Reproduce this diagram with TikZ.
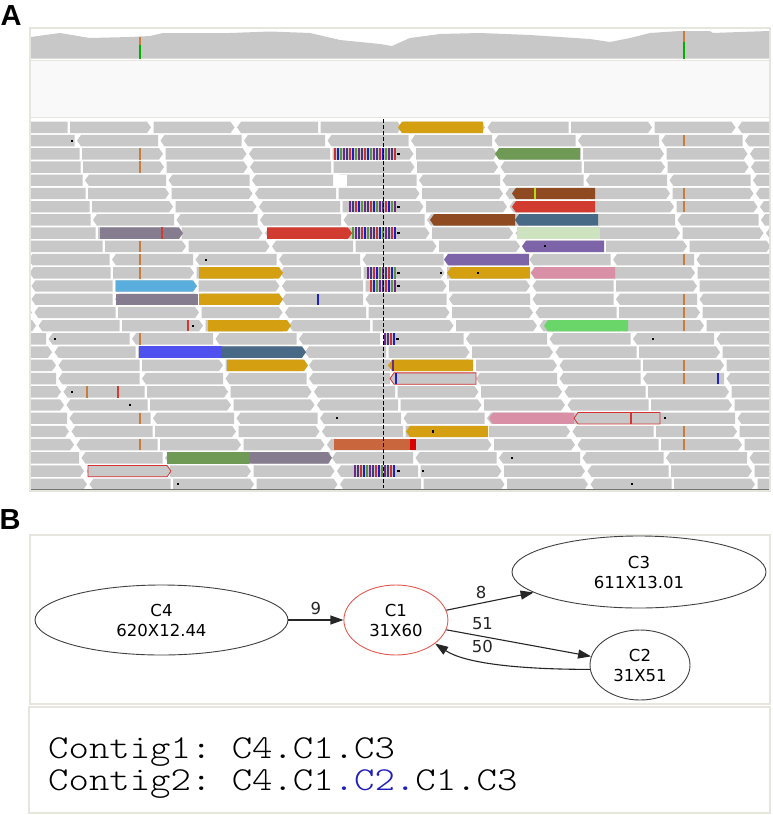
\documentclass[tikz,border=0pt]{standalone}
\usepackage{fontspec}
\setmainfont{DejaVu Sans}
\newfontfamily\panelfont{Liberation Sans}
\newfontfamily\pathfont[FakeStretch=1.16]{lmmonolt10-regular.otf}
\usetikzlibrary{shapes.geometric, arrows.meta, positioning}

\definecolor{readgray}{RGB}{200,200,200}
\definecolor{framegray}{RGB}{230,230,222}
\definecolor{panebg}{RGB}{249,249,249}
\definecolor{gold}{RGB}{212,160,18}
\definecolor{rust}{RGB}{143,74,34}
\definecolor{redread}{RGB}{210,60,48}
\definecolor{slate}{RGB}{72,106,134}
\definecolor{mauve}{RGB}{133,124,143}
\definecolor{mint}{RGB}{205,227,192}
\definecolor{iris}{RGB}{125,99,168}
\definecolor{rose}{RGB}{217,144,166}
\definecolor{sky}{RGB}{90,174,222}
\definecolor{leaf}{RGB}{106,214,106}
\definecolor{royal}{RGB}{80,80,240}
\definecolor{moss}{RGB}{111,154,85}
\definecolor{clay}{RGB}{201,102,62}
\definecolor{outred}{RGB}{215,50,50}
\definecolor{snptan}{RGB}{200,125,60}
\definecolor{c1red}{RGB}{225,90,80}
\definecolor{pathblue}{RGB}{30,30,190}
\definecolor{st0}{RGB}{30,30,200}
\definecolor{st1}{RGB}{110,40,140}
\definecolor{st2}{RGB}{200,50,50}
\definecolor{st3}{RGB}{90,150,60}
\definecolor{st4}{RGB}{60,60,120}

\tikzstyle{panel} = [
    font=\panelfont\bfseries\fontsize{29}{30}\selectfont,
    inner sep=0pt
]
\tikzstyle{contig} = [
    ellipse,
    draw=black!75,
    line width=0.9pt,
    inner sep=0pt,
    minimum height=70pt,
    align=center,
    font=\fontsize{16.5}{20}\selectfont
]
\tikzstyle{link} = [
    -{Triangle[length=13pt,width=9pt]},
    line width=1.1pt,
    black!85
]
\tikzstyle{weight} = [
    inner sep=0pt,
    font=\fontsize{16.5}{20}\selectfont
]
\tikzstyle{contigpath} = [
    anchor=base west,
    inner sep=0pt,
    font=\pathfont\fontsize{33.5}{40}\selectfont\frenchspacing
]

% one read: row, left x, right x, style
\newcommand\readR[4]{%
  \pgfmathsetmacro\rdy{121.7+13.22*#1}%
  \path[#4] (#2,\rdy) -- ({#3-4},\rdy) -- (#3,{\rdy+5.7}) -- ({#3-4},{\rdy+11.4}) -- (#2,{\rdy+11.4}) -- cycle;}
\newcommand\readL[4]{%
  \pgfmathsetmacro\rdy{121.7+13.22*#1}%
  \path[#4] ({#2+4},\rdy) -- (#3,\rdy) -- (#3,{\rdy+11.4}) -- ({#2+4},{\rdy+11.4}) -- (#2,{\rdy+5.7}) -- cycle;}
\newcommand\readN[4]{%
  \pgfmathsetmacro\rdy{121.7+13.22*#1}%
  \path[#4] (#2,\rdy) rectangle (#3,{\rdy+11.4});}
% clipped bases
\newcommand\stripes[3]{%
  \pgfmathsetmacro\rdy{121.7+13.22*#1}%
  \pgfmathtruncatemacro\nst{(#3-#2)/3-1}%
  \foreach \i in {0,...,\nst}{%
    \pgfmathtruncatemacro\ci{mod(\i*3+#1,5)}%
    \fill[fill=st\ci] ({#2+3*\i},\rdy) rectangle ({#2+3*\i+2.4},{\rdy+11.4});}%
  \fill[black] (#3,{\rdy+5}) rectangle ({#3+2.5},{\rdy+6.6});}
\newcommand\snp[3]{%
  \pgfmathsetmacro\rdy{121.7+13.22*#1}%
  \fill[#3] ({#2-0.6},\rdy) rectangle ({#2+0.6},{\rdy+11.4});}
\newcommand\blip[2]{%
  \pgfmathsetmacro\rdy{121.7+13.22*#1}%
  \fill[black] ({#2-1.1},{\rdy+4.6}) rectangle ({#2+1.1},{\rdy+6.8});}

\begin{document}
\begin{tikzpicture}[x=1pt, y=-1pt, node distance=55pt]
\useasboundingbox (0,0) rectangle (773,815);

% A: read pile-up
\node[panel] (labelA) at (11,16) {A};
\draw[framegray, line width=1.2pt, fill=white] (30,28) rectangle (770,491);
\fill[panebg] (31,61) rectangle (769,117);
\draw[framegray] (31,60.5) -- (769,60.5);
\draw[framegray] (31,117.5) -- (769,117.5);
\fill[readgray] (31,58.5) -- (31,37) -- (60,33) -- (90,38) -- (130,37) -- (150,36)
  -- (163,33) -- (230,33) -- (270,31.5) -- (310,33) -- (340,40) -- (380,44)
  -- (392,46) -- (410,38) -- (440,34) -- (480,33) -- (530,35) -- (590,39)
  -- (610,42) -- (630,38) -- (650,33) -- (680,31) -- (710,31) -- (713,33)
  -- (740,32) -- (769,31) -- (769,58.5) -- cycle;
\fill[green!70!black] (139.4,45) rectangle (140.8,58.5);
\fill[snptan] (139.4,37) rectangle (140.8,45);
\fill[green!70!black] (683.4,42) rectangle (684.8,58.5);
\fill[snptan] (683.4,31) rectangle (684.8,42);

\begin{scope}
\clip (31,119) rectangle (769,488);
\foreach \r/\o in {0/70,1/77,2/82,3/83,4/85,5/88,6/92,7/93,8/98,9/105,10/112,
    11/113,12/115,13/115,14/118,15/122,16/132,17/138,18/142,19/142,20/147,
    21/150,22/153,23/155,24/160,25/165,26/170,27/173}{
  \foreach \k in {-2,...,8}{
    \pgfmathsetmacro\xa{\o+83.5*\k}
    \pgfmathsetmacro\xb{\xa+81}
    \pgfmathtruncatemacro\dd{mod(\r*7+\k*5+\r*\k+20,3)}
    \ifnum\dd=0 \readL{\r}{\xa}{\xb}{fill=readgray}\else\readR{\r}{\xa}{\xb}{fill=readgray}\fi
  }
}
\readN{4}{335}{347}{fill=white}

% coloured reads
\readL{0}{398}{483}{fill=gold}
\stripes{2}{334}{397}
\readL{2}{495}{580}{fill=moss}
\readL{5}{512}{595}{fill=rust}
\snp{5}{535}{yellow!70!green}
\stripes{6}{349}{397}
\readL{6}{512}{595}{fill=redread}
\readL{7}{430}{515}{fill=rust}
\readL{7}{515}{598}{fill=slate}
\readR{8}{100}{183}{fill=mauve}
\snp{8}{162}{redread}
\readR{8}{267}{352}{fill=redread}
\stripes{8}{352}{397}
\readN{8}{517}{600}{fill=mint}
\readL{9}{522}{604}{fill=iris}
\readL{10}{444}{529}{fill=iris}
\readR{11}{199}{283}{fill=gold}
\stripes{11}{367}{397}
\readL{11}{447}{530}{fill=gold}
\readL{11}{531}{615}{fill=rose}
\readR{12}{116}{197}{fill=sky}
\stripes{12}{370}{397}
\readN{13}{116}{198}{fill=mauve}
\readR{13}{199}{283}{fill=gold}
\readR{15}{208}{291}{fill=gold}
\readL{15}{544}{628}{fill=leaf}
\stripes{16}{384}{396}
\readN{17}{139}{222}{fill=royal}
\readR{17}{222}{306}{fill=slate}
\readR{18}{227}{308}{fill=gold}
\readL{18}{388}{473}{fill=gold}
\snp{18}{393}{st1}
\readL{19}{390}{476}{fill=readgray, draw=outred, line width=0.8pt}
\snp{19}{396}{st0}
\readL{22}{489}{574}{fill=rose}
\readL{22}{574}{660}{fill=readgray, draw=outred, line width=0.8pt}
\snp{22}{631}{outred}
\readL{23}{406}{488}{fill=gold}
\readN{24}{334}{410}{fill=clay}
\readN{24}{410}{416}{fill=red!85!black}
\readN{25}{167}{249}{fill=moss}
\readR{25}{249}{332}{fill=mauve}
\readR{26}{88}{171}{fill=readgray, draw=outred, line width=0.8pt}
\stripes{26}{354}{397}

% mismatches
\foreach \r in {2,3,9,10,11,16,22,24}{\snp{\r}{140}{snptan}}
\foreach \r in {1,5,6,10,13,14,15,18,19,23,24}{\snp{\r}{684}{snptan}}
\snp{20}{87}{snptan}
\snp{20}{118}{redread}
\snp{15}{188}{redread}
\snp{13}{318}{st0}
\snp{19}{718}{st0}
\foreach \r/\x in {1/72,9/545,10/206,11/441,11/478,15/193,16/55,16/653,20/72,
    21/130,22/337,22/665,23/433,25/512,26/423,27/178,27/632}{\blip{\r}{\x}}
\end{scope}
\draw[black, line width=0.8pt, dash pattern=on 4pt off 2pt] (383.5,119) -- (383.5,488);
\draw[black!55, line width=0.8pt] (31,489) -- (769,489);

% B: contig graph
\node[panel] (labelB) at (10,520) {B};
\draw[framegray, line width=1.2pt] (30,535) rectangle (770,704);
\draw[framegray, line width=1.2pt] (29,707) rectangle (770,813);

\node[contig, minimum width=253pt] (c4) at (161.5,620) {C4\\620X12.44};
\node[contig, draw=c1red, minimum width=104pt] (c1) [right=of c4] {C1\\31X60};
\node[contig, minimum width=254pt, minimum height=72pt] (c3) at (639,572) {C3\\611X13.01};
\node[contig, minimum width=100pt] (c2) at (640,665) {C2\\31X51};

\draw[link] (c4) -- node[weight, above=4.5pt] (w9) {9} (c1);
\draw[link] (c1.11) -- node[weight, pos=0.4, above=4pt] (w8) {8} (c3.191);
\draw[link] (c1.349) -- node[weight, pos=0.25, above=6pt] (w51) {51} (c2.170);
\draw[link] (c2.185) .. controls +(-70,0) and +(30,20) .. node[weight, pos=0.6, above=8pt] (w50) {50} (c1.329);

\node[contigpath] (path1) at (48,758) {Contig1: C4.C1.C3};
\node[contigpath] (path2) at (48,790) {Contig2: C4.C1{\color{pathblue}.C2.}C1.C3};
\end{tikzpicture}
\end{document}
